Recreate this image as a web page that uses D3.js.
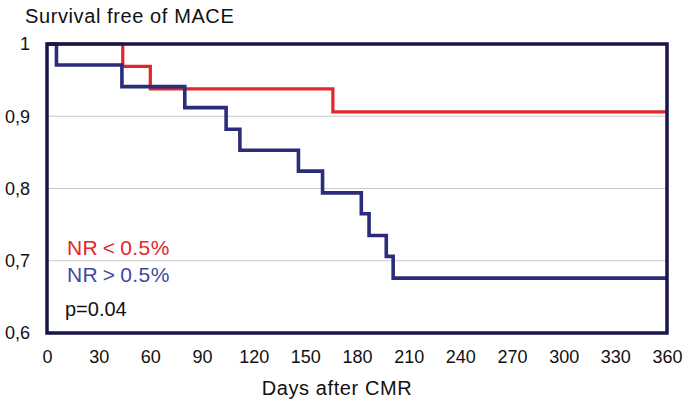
<!DOCTYPE html>
<html>
<head>
<meta charset="utf-8">
<script src="https://cdn.jsdelivr.net/npm/d3@7"></script>
<style>
  body { margin: 0; background: #fff; }
  svg { display: block; font-family: "Liberation Sans", Arial, sans-serif; }
</style>
</head>
<body>
<script>
// Kaplan-Meier steps
const redDays  = [0, 44, 60, 166];
const redSurv  = [1, 0.969, 0.938, 0.906];
const blueDays = [0, 5.5, 43.5, 80, 104, 112, 146, 160, 182.5, 187, 197, 201];
const blueSurv = [1, 0.971, 0.941, 0.912, 0.882, 0.853, 0.824, 0.794, 0.765, 0.735, 0.706, 0.676];
const xTicks = [0, 30, 60, 90, 120, 150, 180, 210, 240, 270, 300, 330, 360];
const yTicks = [0.6, 0.7, 0.8, 0.9, 1];
const gridVals = [0.7, 0.8, 0.9];
const legendLabels = ["NR < 0.5%", "NR > 0.5%"];

const W = 685, H = 403;
const plotLeft = 47, plotRight = 667, plotTop = 44, plotBottom = 333;

const svg = d3.select("body").append("svg")
  .attr("width", W)
  .attr("height", H);

const x = d3.scaleLinear().domain([0, 360]).range([plotLeft, plotRight]);
const y = d3.scaleLinear().domain([0.6, 1]).range([plotBottom, plotTop]);

// grid
svg.selectAll("line.grid")
  .data(gridVals)
  .enter().append("line")
  .attr("class", "grid")
  .attr("x1", plotLeft).attr("x2", plotRight)
  .attr("y1", d => y(d)).attr("y2", d => y(d))
  .attr("stroke", "#c9c9c9")
  .attr("stroke-width", 1.2);

// axes (labels only)
const xAxis = svg.append("g")
  .attr("transform", `translate(0,${plotBottom})`)
  .call(d3.axisBottom(x).tickValues(xTicks).tickSize(0).tickPadding(17));
xAxis.select(".domain").remove();
xAxis.selectAll("text")
  .attr("font-size", "18px")
  .attr("font-family", "Liberation Sans, Arial, sans-serif")
  .attr("fill", "#111");

const fmt = d => d === 1 ? "1" : d.toFixed(1).replace(".", ",");
const yAxis = svg.append("g")
  .attr("transform", `translate(${plotLeft},0)`)
  .call(d3.axisLeft(y).tickValues(yTicks).tickFormat(fmt).tickSize(0).tickPadding(17));
yAxis.select(".domain").remove();
yAxis.selectAll("text")
  .attr("font-size", "18px")
  .attr("font-family", "Liberation Sans, Arial, sans-serif")
  .attr("fill", "#111");

// curves
const line = d3.line()
  .x(d => x(d[0]))
  .y(d => y(d[1]))
  .curve(d3.curveStepAfter);

const redPts = redDays.map((d, i) => [d, redSurv[i]]);
redPts.push([360, redSurv[redSurv.length - 1]]);
const bluePts = blueDays.map((d, i) => [d, blueSurv[i]]);
bluePts.push([360, blueSurv[blueSurv.length - 1]]);

svg.append("path")
  .datum(redPts)
  .attr("d", line)
  .attr("fill", "none")
  .attr("stroke", "#e3262c")
  .attr("stroke-width", 3.2);

svg.append("path")
  .datum(bluePts)
  .attr("d", line)
  .attr("fill", "none")
  .attr("stroke", "#2b2c7a")
  .attr("stroke-width", 3.6);

// frame
svg.append("rect")
  .attr("x", x(0)).attr("y", y(1))
  .attr("width", x(360) - x(0))
  .attr("height", y(0.6) - y(1))
  .attr("fill", "none")
  .attr("stroke", "#16164a")
  .attr("stroke-width", 3.5);

// titles
svg.append("text")
  .attr("x", 25).attr("y", 23)
  .attr("font-size", "20px")
  .attr("letter-spacing", "0.6px")
  .attr("fill", "#111")
  .text("Survival free of MACE");

svg.append("text")
  .attr("x", 337).attr("y", 395)
  .attr("text-anchor", "middle")
  .attr("font-size", "20px")
  .attr("letter-spacing", "0.6px")
  .attr("fill", "#111")
  .text("Days after CMR");

// legend
const legendColors = ["#e3262c", "#3b4a9e"];
svg.selectAll("text.legend")
  .data(legendLabels)
  .enter().append("text")
  .attr("class", "legend")
  .attr("x", 67)
  .attr("y", (d, i) => 255 + i * 27)
  .attr("font-size", "21px")
  .attr("letter-spacing", "0.4px")
  .attr("word-spacing", "-1.5px")
  .attr("fill", (d, i) => legendColors[i])
  .text(d => d);

svg.append("text")
  .attr("x", 65).attr("y", 316)
  .attr("font-size", "20px")
  .attr("fill", "#111")
  .text("p=0.04");
</script>
</body>
</html>
